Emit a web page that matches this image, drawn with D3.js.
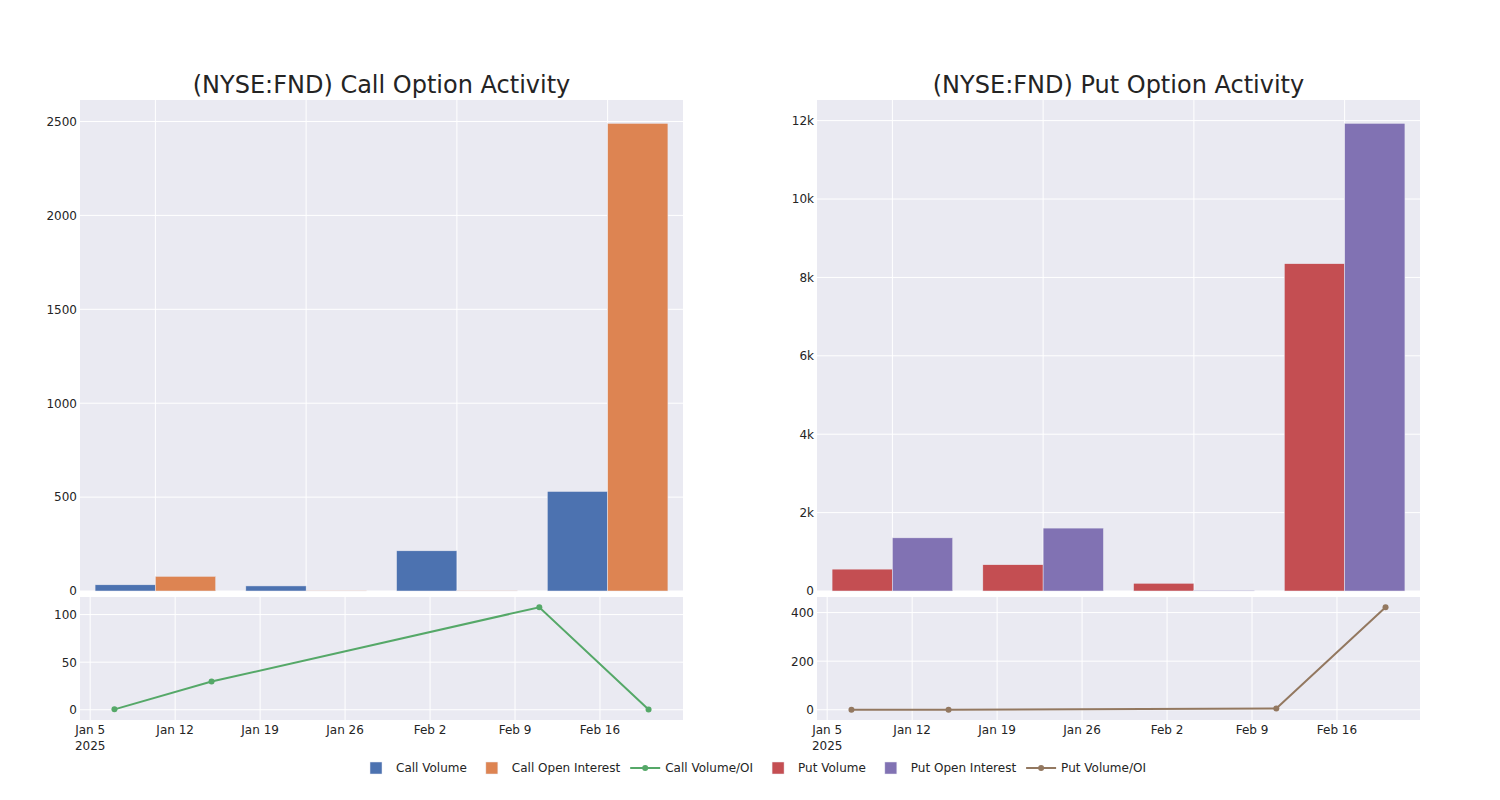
<!DOCTYPE html>
<html>
<head>
<meta charset="utf-8">
<script src="https://cdn.jsdelivr.net/npm/d3@7"></script>
<style>
  html, body { margin: 0; padding: 0; background: #fff; }
  svg { display: block; font-family: "DejaVu Sans", Verdana, sans-serif; }
</style>
</head>
<body>
<svg id="chart" width="1500" height="800"></svg>
<script>
// ---------------- DATA ----------------
const categories = ["2025-01-07", "2025-01-15", "2025-02-11", "2025-02-20"];
const ratioDates = ["2025-01-07", "2025-01-15", "2025-02-11", "2025-02-20"];

const callVolume = [33, 27, 214, 530];
const callOpenInterest = [78, 1, 2, 2490];
const callVolumeOI = [0.4, 29.6, 107.7, 0.2];

const putVolume = [558, 670, 197, 8350];
const putOpenInterest = [1356, 1605, 18, 11930];
const putVolumeOI = [0.4, 0.4, 5.5, 422];

const callTicksTop = [0, 500, 1000, 1500, 2000, 2500];
const putTicksTop = [0, 2000, 4000, 6000, 8000, 10000, 12000];
const callTicksBottom = [0, 50, 100];
const putTicksBottom = [0, 200, 400];
const dateTicks = ["2025-01-05", "2025-01-12", "2025-01-19", "2025-01-26", "2025-02-02", "2025-02-09", "2025-02-16"];

const titles = ["(NYSE:FND) Call Option Activity", "(NYSE:FND) Put Option Activity"];
const legendItems = [
  { name: "Call Volume", type: "bar", color: "#4C72B0" },
  { name: "Call Open Interest", type: "bar", color: "#DD8452" },
  { name: "Call Volume/OI", type: "line", color: "#55A868" },
  { name: "Put Volume", type: "bar", color: "#C44E52" },
  { name: "Put Open Interest", type: "bar", color: "#8172B3" },
  { name: "Put Volume/OI", type: "line", color: "#937860" }
];

// ---------------- SETUP ----------------
const svg = d3.select("#chart");
const BG = "#EAEAF2";
const TXT = "rgb(36,36,36)";
const parse = d3.utcParse("%Y-%m-%d");

const panels = [
  { x0: 80, x1: 683, title: titles[0], s1: callVolume, s2: callOpenInterest, c1: "#4C72B0", c2: "#DD8452",
    ticksTop: callTicksTop, fmtTop: d3.format("d"), ratio: callVolumeOI, ratioColor: "#55A868", ticksBottom: callTicksBottom },
  { x0: 817, x1: 1420, title: titles[1], s1: putVolume, s2: putOpenInterest, c1: "#C44E52", c2: "#8172B3",
    ticksTop: putTicksTop, fmtTop: v => v === 0 ? "0" : (v / 1000) + "k", ratio: putVolumeOI, ratioColor: "#937860", ticksBottom: putTicksBottom }
];

const topY0 = 100, topY1 = 591, botY0 = 597, botY1 = 720;

const dates = ratioDates.map(parse);
const dmin = d3.min(dates), dmax = d3.max(dates);
const dpad = (dmax - dmin) * 0.0645;

panels.forEach(p => {
  const g = svg.append("g");

  // title
  g.append("text")
    .attr("x", (p.x0 + p.x1) / 2).attr("y", 92.5)
    .attr("text-anchor", "middle")
    .attr("font-size", 24).attr("fill", TXT)
    .text(p.title);

  // ---- top bar panel ----
  g.append("rect").attr("x", p.x0).attr("y", topY0)
    .attr("width", p.x1 - p.x0).attr("height", topY1 - topY0).attr("fill", BG);

  const x = d3.scaleBand().domain(categories).range([p.x0, p.x1])
    .paddingInner(0.2).paddingOuter(0.1);
  const xs = d3.scaleBand().domain([0, 1]).range([0, x.bandwidth()]);
  const ymax = d3.max([...p.s1, ...p.s2]) * 1.05;
  const y = d3.scaleLinear().domain([0, ymax]).range([topY1, topY0]);

  g.append("g").selectAll("line").data(p.ticksTop).join("line")
    .attr("x1", p.x0).attr("x2", p.x1)
    .attr("y1", d => y(d)).attr("y2", d => y(d))
    .attr("stroke", "#fff").attr("stroke-width", 1);
  g.append("g").selectAll("line").data(categories).join("line")
    .attr("x1", d => x(d) + x.bandwidth() / 2).attr("x2", d => x(d) + x.bandwidth() / 2)
    .attr("y1", topY0).attr("y2", topY1)
    .attr("stroke", "#fff").attr("stroke-width", 1);

  const yAxis = d3.axisLeft(y).tickValues(p.ticksTop).tickFormat(p.fmtTop).tickSize(0).tickPadding(3);
  const ya = g.append("g").attr("transform", `translate(${p.x0},0)`).call(yAxis);
  ya.select(".domain").remove();
  ya.selectAll("text").attr("font-size", 12).attr("fill", TXT).attr("font-family", "DejaVu Sans");

  [[p.s1, p.c1, 0], [p.s2, p.c2, 1]].forEach(([vals, col, k]) => {
    g.append("g").selectAll("rect").data(vals).join("rect")
      .attr("x", (d, i) => x(categories[i]) + xs(k))
      .attr("width", xs.bandwidth())
      .attr("y", d => y(d))
      .attr("height", d => y(0) - y(d))
      .attr("fill", col)
      .attr("stroke", "rgb(234,234,242)").attr("stroke-width", 0.5);
  });

  // ---- bottom line panel ----
  g.append("rect").attr("x", p.x0).attr("y", botY0)
    .attr("width", p.x1 - p.x0).attr("height", botY1 - botY0).attr("fill", BG);

  const xt = d3.scaleUtc().domain([new Date(+dmin - dpad), new Date(+dmax + dpad)]).range([p.x0, p.x1]);
  const rmax = d3.max(p.ratio), rmin = Math.min(0, d3.min(p.ratio));
  const rpad = (rmax - rmin) * 0.1;
  const yr = d3.scaleLinear().domain([rmin - rpad, rmax + rpad]).range([botY1, botY0]);

  const dTicks = dateTicks.map(parse);
  g.append("g").selectAll("line").data(dTicks).join("line")
    .attr("x1", d => xt(d)).attr("x2", d => xt(d))
    .attr("y1", botY0).attr("y2", botY1)
    .attr("stroke", "#fff").attr("stroke-width", 1);
  g.append("g").selectAll("line").data(p.ticksBottom).join("line")
    .attr("x1", p.x0).attr("x2", p.x1)
    .attr("y1", d => yr(d)).attr("y2", d => yr(d))
    .attr("stroke", "#fff").attr("stroke-width", 1);

  const yb = g.append("g").attr("transform", `translate(${p.x0},0)`)
    .call(d3.axisLeft(yr).tickValues(p.ticksBottom).tickFormat(d3.format("d")).tickSize(0).tickPadding(3));
  yb.select(".domain").remove();
  yb.selectAll("text").attr("font-size", 12).attr("fill", TXT).attr("font-family", "DejaVu Sans");

  const fmt = d3.utcFormat("%b %-d");
  g.append("g").selectAll("text").data(dTicks).join("text")
    .attr("x", d => xt(d)).attr("y", 733.5)
    .attr("text-anchor", "middle").attr("font-size", 12).attr("fill", TXT)
    .text(d => fmt(d));
  g.append("text").attr("x", xt(dTicks[0])).attr("y", 749.5)
    .attr("text-anchor", "middle").attr("font-size", 12).attr("fill", TXT)
    .text(d3.utcFormat("%Y")(dTicks[0]));

  const line = d3.line().x((d, i) => xt(dates[i])).y(d => yr(d));
  g.append("path").datum(p.ratio).attr("d", line)
    .attr("fill", "none").attr("stroke", p.ratioColor).attr("stroke-width", 2);
  g.append("g").selectAll("circle").data(p.ratio).join("circle")
    .attr("cx", (d, i) => xt(dates[i])).attr("cy", d => yr(d)).attr("r", 3)
    .attr("fill", p.ratioColor);
});

// ---------------- LEGEND ----------------
const lg = svg.append("g");
let cx = 356;
const ly = 768;
legendItems.forEach(it => {
  const item = lg.append("g").attr("transform", `translate(${cx},${ly})`);
  if (it.type === "bar") {
    item.append("rect").attr("x", 14).attr("y", -6).attr("width", 12).attr("height", 12)
      .attr("fill", it.color).attr("stroke", "rgb(234,234,242)").attr("stroke-width", 0.5);
  } else {
    item.append("line").attr("x1", 5).attr("x2", 35).attr("y1", 0).attr("y2", 0)
      .attr("stroke", it.color).attr("stroke-width", 2);
    item.append("circle").attr("cx", 20).attr("cy", 0).attr("r", 3).attr("fill", it.color);
  }
  const t = item.append("text").attr("x", 40).attr("y", 0).attr("dy", "0.35em")
    .attr("font-size", 12).attr("fill", TXT).text(it.name);
  const w = t.node().getComputedTextLength();
  cx += 40 + w + 5;
});
</script>
</body>
</html>
